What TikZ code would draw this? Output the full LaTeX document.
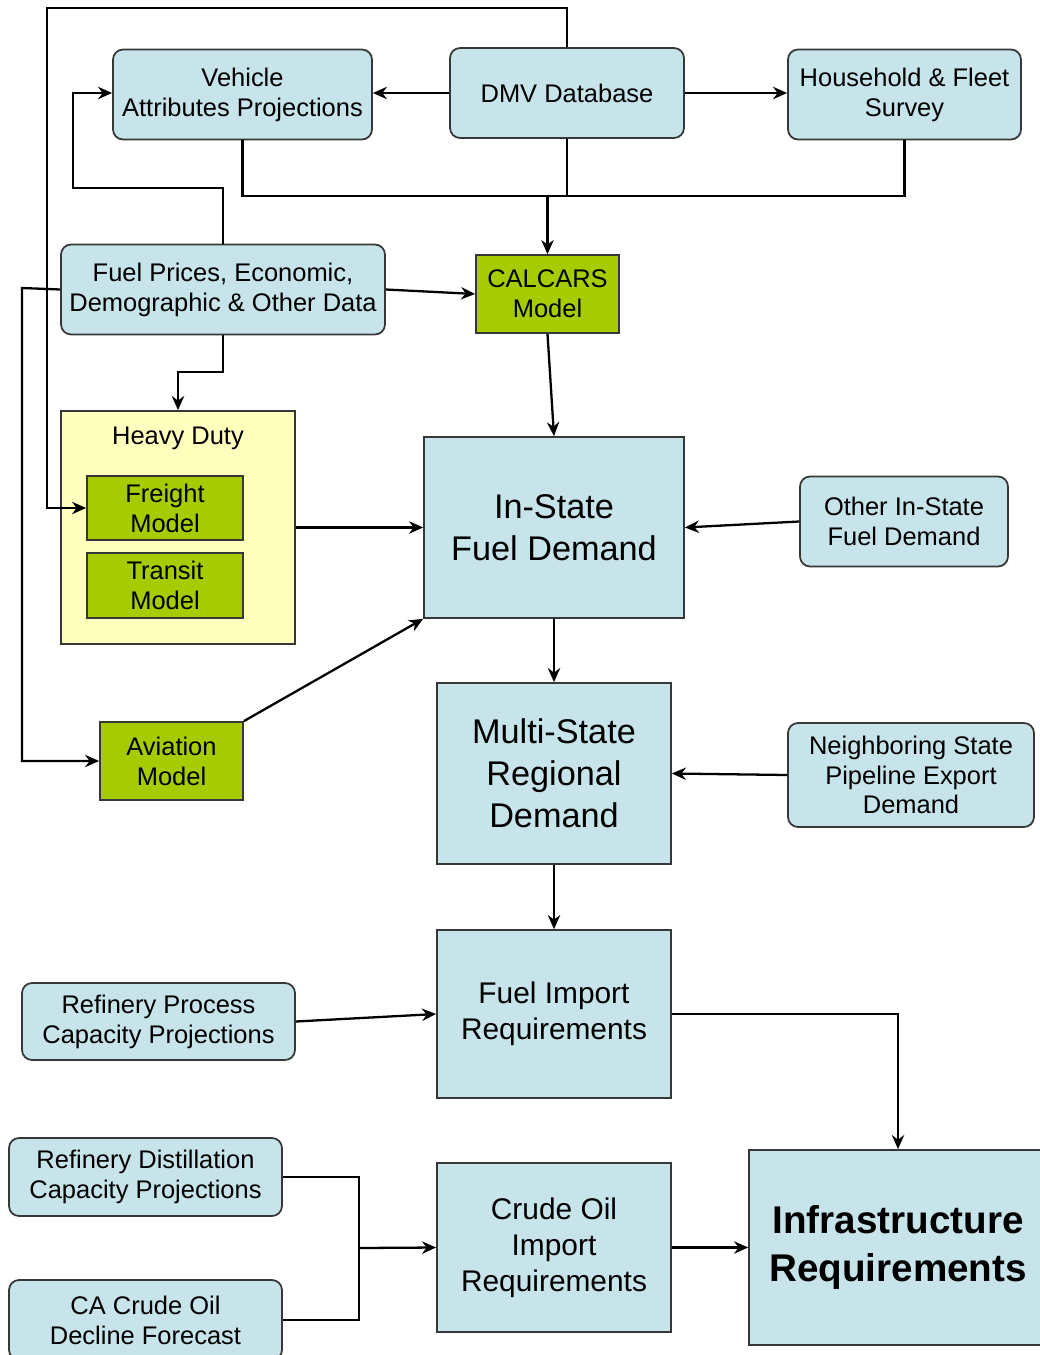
\documentclass[tikz,border=0pt]{standalone}
\usepackage{fontspec}
\setmainfont{Liberation Sans}
\usepackage{tikz}
\usetikzlibrary{arrows.meta,calc}
\definecolor{myblue}{RGB}{198,228,233}
\definecolor{mygreen}{RGB}{166,204,0}
\definecolor{myyellow}{RGB}{255,255,190}
\definecolor{myframe}{RGB}{55,55,55}

\begin{document}
\begin{tikzpicture}[x=0.02cm,y=-0.02cm,
	every node/.style={draw=myframe,line width=1pt,align=center,inner sep=0pt},
	datanode/.style={fill=myblue,rounded corners=0.2cm,font=\fontsize{14.5}{17}\selectfont},
	modelnode/.style={fill=mygreen,font=\fontsize{14.5}{17}\selectfont},
	groupnode/.style={fill=myyellow},
	demandnode/.style={fill=myblue,font=\fontsize{19.5}{24}\selectfont},
	importnode/.style={fill=myblue,font=\fontsize{17}{20.5}\selectfont},
	resultnode/.style={fill=myblue,font=\bfseries\fontsize{22}{27}\selectfont},
	link/.style={line width=1.3pt,-{Stealth[length=8pt,width=7pt]}},
	wire/.style={line width=1.3pt},
	]
	\useasboundingbox (0,0) rectangle (1039,1355);
	
	% the data sources
	\node[datanode,minimum width=5.18cm,minimum height=1.8cm] (vehicle) at (242.5,94.5) {Vehicle\\Attributes Projections};
	\node[datanode,minimum width=4.68cm,minimum height=1.8cm] (dmv) at (567,93) {DMV Database};
	\node[datanode,minimum width=4.66cm,minimum height=1.8cm] (household) at (904.5,94.5) {Household \& Fleet\\Survey};
	\node[datanode,minimum width=6.48cm,minimum height=1.8cm] (fuel) at (223,289.5) {Fuel Prices, Economic,\\Demographic \& Other Data};
	\node[datanode,minimum width=4.16cm,minimum height=1.8cm] (otherdemand) at (904,521.5) {Other In-State\\Fuel Demand};
	\node[datanode,minimum width=4.92cm,minimum height=2.08cm] (neighbor) at (911,775) {Neighboring State\\Pipeline Export\\Demand};
	\node[datanode,minimum width=5.46cm,minimum height=1.54cm] (refprocess) at (158.5,1021.5) {Refinery Process\\Capacity Projections};
	\node[datanode,minimum width=5.46cm,minimum height=1.56cm] (refdistill) at (145.5,1177) {Refinery Distillation\\Capacity Projections};
	\node[datanode,minimum width=5.46cm,minimum height=1.6cm] (crudedecline) at (145.5,1320) {CA Crude Oil\\Decline Forecast};
	
	% the models
	\node[groupnode,minimum width=4.68cm,minimum height=4.66cm,
		label={[draw=none,below=0.32cm,font=\fontsize{14.5}{17}\selectfont]north:Heavy Duty}] (heavy) at (178,527.5) {};
	\node[modelnode,minimum width=3.12cm,minimum height=1.28cm] (freight) at (165,508) {Freight\\Model};
	\node[modelnode,minimum width=3.12cm,minimum height=1.3cm] (transit) at (165,585.5) {Transit\\Model};
	\node[modelnode,minimum width=2.86cm,minimum height=1.56cm] (calcars) at (547.5,294) {CALCARS\\Model};
	\node[modelnode,minimum width=2.86cm,minimum height=1.56cm] (aviation) at (171.5,761) {Aviation\\Model};
	
	% the demand and requirement blocks
	\node[demandnode,minimum width=5.2cm,minimum height=3.62cm] (instate) at (554,527.5) {In-State\\Fuel Demand};
	\node[demandnode,minimum width=4.68cm,minimum height=3.62cm] (multistate) at (554,773.5) {Multi-State\\Regional\\Demand};
	\node[importnode,minimum width=4.68cm,minimum height=3.36cm] (fuelimport) at (554,1014) {Fuel Import\\Requirements};
	\node[importnode,minimum width=4.68cm,minimum height=3.38cm] (crudeimport) at (554,1247.5) {Crude Oil\\Import\\Requirements};
	\node[resultnode,minimum width=5.96cm,minimum height=3.9cm] (infra) at (898,1247.5) {Infrastructure\\Requirements};
	
	% the junctions
	\coordinate (carsjoin) at (547.5,196);
	\coordinate (crudejoin) at (359,1248);
	
	% the edges
	\draw[link] (dmv) -- (vehicle.east |- dmv);
	\draw[link] (dmv) -- (household.west |- dmv);
	\draw[link] (dmv.north) |- (47,8) |- (freight.west);
	\draw[link] (fuel.north) |- (73,188) |- (vehicle.west |- dmv);
	\draw[link] (fuel.west) -- (22,288) |- (aviation.west);
	\draw[wire] (vehicle.south) |- (904.5,196) -- (household.south);
	\draw[wire] (dmv.south) -- (567,196);
	\draw[link] (carsjoin) -- (calcars.north);
	\draw[link] (fuel.east) -- (calcars.west);
	\draw[link] (fuel.south) |- (178,372) -- (heavy.north);
	\draw[link] (calcars.south) -- (instate.north);
	\draw[link] (heavy.east) -- (instate.west);
	\draw[link] (aviation.north east) -- (instate.south west);
	\draw[link] (otherdemand.west) -- (instate.east);
	\draw[link] (instate) -- (multistate);
	\draw[link] (neighbor.west) -- (multistate.east);
	\draw[link] (multistate) -- (fuelimport);
	\draw[link] (refprocess.east) -- (fuelimport.west);
	\draw[link] (fuelimport.east) -| (infra.north);
	\draw[wire] (refdistill.east) -| (crudejoin) |- (crudedecline.east);
	\draw[link] (crudejoin) -- (crudeimport.west);
	\draw[link] (crudeimport) -- (infra);
\end{tikzpicture}
\end{document}
